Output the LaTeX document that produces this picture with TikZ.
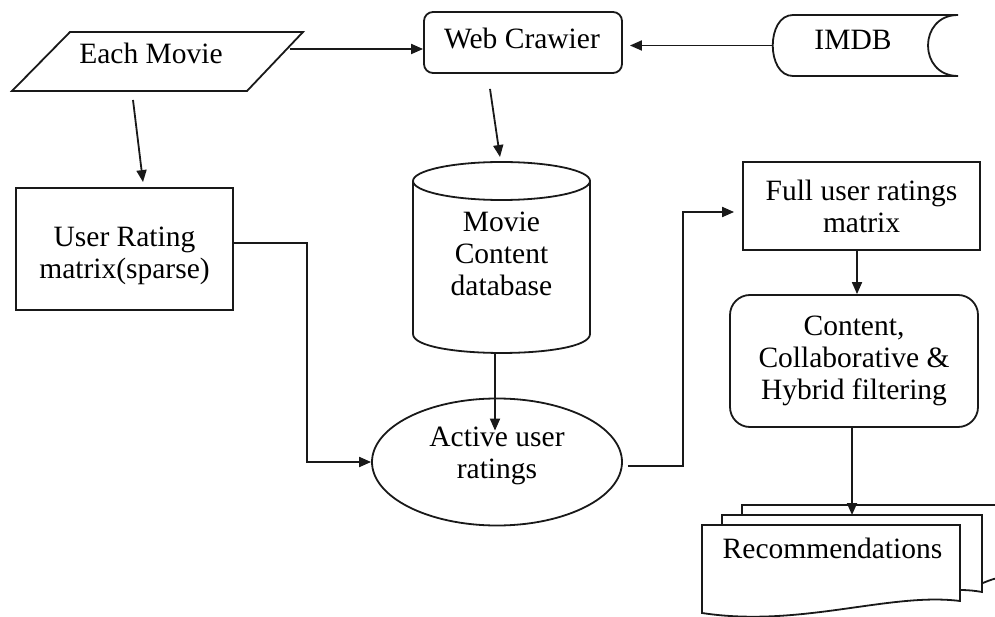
\documentclass[tikz,border=0pt]{standalone}
\usepackage{fontspec}
\setmainfont{Liberation Serif}
\usetikzlibrary{arrows.meta,shapes.geometric}
\begin{document}
\begin{tikzpicture}[x=1pt,y=-1pt,
  ln/.style={line width=1.8pt, draw=black!90},
  arr/.style={ln, -{Triangle[length=12pt,width=10pt]}},
  txt/.style={font=\fontsize{29.5}{32}\selectfont, align=center, inner sep=0pt},
  holder/.style={inner sep=0pt, outer sep=0pt},
  boxnode/.style={ln, txt, rectangle, fill=white},
]
\useasboundingbox (0,0) rectangle (995,617);

% Each Movie (parallelogram)
\node[holder, minimum width=291pt, minimum height=59pt] (each) at (157.5,61.5) {};
\draw[ln] (70,32) -- (303,32) -- (247,91) -- (12,91) -- cycle;
\node[txt] (eacht) at (151,53) {Each Movie};

% Web Crawier
\node[boxnode, rounded corners=9pt, minimum width=198pt, minimum height=61pt] (web) at (523,42.5) {};
\node[txt] (webt) at (522,38) {Web Crawier};

% IMDB (stored data)
\node[holder, minimum width=185pt, minimum height=61pt] (imdb) at (865.5,45.5) {};
\draw[ln] (793,15) -- (958,15) .. controls (918,15) and (918,76) .. (958,76)
  -- (793,76) .. controls (766,76) and (766,15) .. (793,15) -- cycle;
\node[txt] (imdbt) at (853,40) {IMDB};

% User Rating matrix
\node[boxnode, minimum width=217pt, minimum height=122pt] (urm) at (124.5,249) {};
\node[txt] (urmt) at (124.5,256) {User Rating\\matrix(sparse)};

% Movie Content database (cylinder)
\node[holder, minimum width=177pt, minimum height=191pt] (cyl) at (501.5,257.5) {};
\draw[ln] (413,181) -- (413,334) .. controls (413,359.3) and (590,359.3) .. (590,334) -- (590,181);
\draw[ln] (501.5,181) ellipse [x radius=88.5, y radius=19];
\node[txt] (cylt) at (501.5,254) {Movie\\Content\\database};

% Active user ratings
\node[ln, ellipse, minimum width=250pt, minimum height=127pt, inner sep=0pt] (act) at (497,462) {};
\node[txt] (actt) at (497,456) {Active user\\ratings};

% Full user ratings matrix
\node[boxnode, minimum width=237pt, minimum height=88pt] (full) at (861.5,206) {Full user ratings\\matrix};

% Filtering
\node[boxnode, rounded corners=20pt, minimum width=248pt, minimum height=132pt] (rnd) at (854,361) {Content,\\Collaborative \&\\Hybrid filtering};

% Recommendations (multi-document)
\draw[ln, fill=white] (742,590) -- (742,505) -- (1010,505) -- (1010,576)
  .. controls (990,578) and (985,583) .. (970,588) -- cycle;
\node[holder, minimum width=260pt, minimum height=77pt] (mid) at (852,553.5) {};
\draw[ln, fill=white] (722,600) -- (722,515) -- (982,515) -- (982,592)
  .. controls (930,582) and (850,612) .. (722,600) -- cycle;
\node[holder, minimum width=258pt, minimum height=88pt] (rec) at (831,569) {};
\draw[ln, fill=white] (702,613) -- (702,525) -- (960,525) -- (960,601)
  .. controls (890,592) and (800,628) .. (702,613) -- cycle;
\node[txt] (rect) at (832.5,548) {Recommendations};

% Connectors
\coordinate (e1) at ([xshift=-13.5pt,yshift=12.5pt]each.east);
\draw[arr] (e1) -- (e1 -| web.west);
\draw[arr, shorten >=7pt] (imdb.west) -- (imdb.west -| web.east);
\draw[arr] ([xshift=-24.5pt,yshift=-9pt]each.south) -- ([xshift=18.5pt,yshift=5pt]urm.north);
\draw[arr] ([xshift=-33pt,yshift=-15pt]web.south) -- ([xshift=-1.5pt,yshift=5pt]cyl.north);
\draw[arr] ([xshift=-6.5pt]cyl.south) -- ([xshift=-2pt,yshift=-33pt]act.north);
\draw[arr] ([yshift=6pt]urm.east) -- ++(73,0) |- (act.west);
\draw[arr, shorten >=8pt] ([xshift=5pt,yshift=-4pt]act.east) -- ++(55,0) |- ([yshift=-6pt]full.west);
\draw[arr] ([xshift=-4.5pt]full.south) -- ([xshift=-4.5pt]full.south |- rnd.north);
\draw[arr] ([xshift=-2pt]rnd.south) -- ([xshift=-2pt]rnd.south |- mid.north);
\end{tikzpicture}
\end{document}
